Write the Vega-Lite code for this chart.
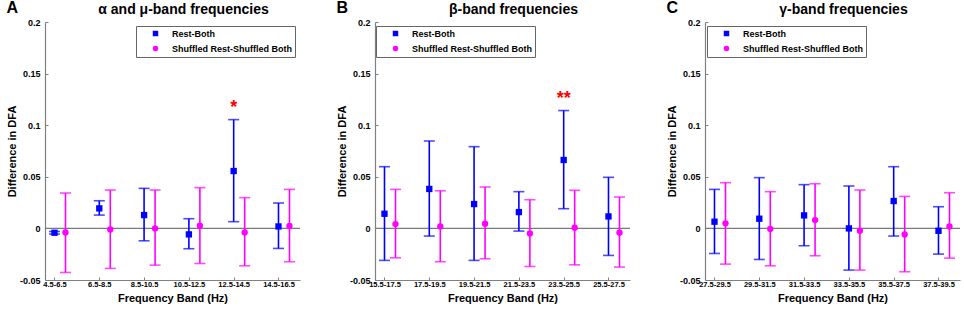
{
  "$schema": "https://vega.github.io/schema/vega-lite/v6.json",
  "background": "white",
  "padding": {"left": 6, "top": 0, "right": 0, "bottom": 0},
  "spacing": 35,
  "config": {
    "font": "Liberation Sans",
    "view": {"stroke": null},
    "axis": {
      "grid": false,
      "labelFont": "Liberation Sans",
      "labelFontWeight": "bold",
      "labelColor": "#000000",
      "titleFont": "Liberation Sans",
      "titleFontWeight": "bold",
      "titleFontSize": 11,
      "titleColor": "#000000",
      "domainColor": "#808080",
      "domainWidth": 1.2,
      "tickColor": "#808080",
      "tickSize": -3,
      "labelOverlap": false
    },
    "axisY": {"labelFontSize": 9, "labelPadding": 8, "titlePadding": 2},
    "axisX": {"labelFontSize": 7.5, "labelPadding": 3, "titlePadding": 5},
    "legend": {
      "labelFont": "Liberation Sans",
      "labelFontSize": 9,
      "labelFontWeight": "bold",
      "labelColor": "#000000",
      "strokeColor": "#666666",
      "fillColor": "#ffffff",
      "padding": 3,
      "rowPadding": 5,
      "symbolSize": 30,
      "symbolOffset": 12,
      "labelOffset": 12,
      "symbolStrokeWidth": 0
    },
    "title": {"font": "Liberation Sans", "fontWeight": "bold", "color": "#000000"}
  },
  "datasets": {
    "A": [
      {"band": "4.5-6.5", "series": "Rest-Both", "mean": -0.0042, "lo": -0.0055, "hi": -0.003, "sig": ""},
      {"band": "4.5-6.5", "series": "Shuffled Rest-Shuffled Both", "mean": -0.004, "lo": -0.0427, "hi": 0.0343, "sig": ""},
      {"band": "6.5-8.5", "series": "Rest-Both", "mean": 0.0194, "lo": 0.0129, "hi": 0.0268, "sig": ""},
      {"band": "6.5-8.5", "series": "Shuffled Rest-Shuffled Both", "mean": -0.001, "lo": -0.0388, "hi": 0.0372, "sig": ""},
      {"band": "8.5-10.5", "series": "Rest-Both", "mean": 0.0129, "lo": -0.012, "hi": 0.0388, "sig": ""},
      {"band": "8.5-10.5", "series": "Shuffled Rest-Shuffled Both", "mean": 0.0, "lo": -0.0356, "hi": 0.0372, "sig": ""},
      {"band": "10.5-12.5", "series": "Rest-Both", "mean": -0.0058, "lo": -0.0197, "hi": 0.0094, "sig": ""},
      {"band": "10.5-12.5", "series": "Shuffled Rest-Shuffled Both", "mean": 0.0026, "lo": -0.034, "hi": 0.0395, "sig": ""},
      {"band": "12.5-14.5", "series": "Rest-Both", "mean": 0.0556, "lo": 0.0065, "hi": 0.1054, "sig": "*"},
      {"band": "12.5-14.5", "series": "Shuffled Rest-Shuffled Both", "mean": -0.0039, "lo": -0.0362, "hi": 0.0298, "sig": ""},
      {"band": "14.5-16.5", "series": "Rest-Both", "mean": 0.0019, "lo": -0.0194, "hi": 0.0246, "sig": ""},
      {"band": "14.5-16.5", "series": "Shuffled Rest-Shuffled Both", "mean": 0.0023, "lo": -0.0323, "hi": 0.0378, "sig": ""}
    ],
    "B": [
      {"band": "15.5-17.5", "series": "Rest-Both", "mean": 0.0142, "lo": -0.031, "hi": 0.0598, "sig": ""},
      {"band": "15.5-17.5", "series": "Shuffled Rest-Shuffled Both", "mean": 0.0042, "lo": -0.0285, "hi": 0.0378, "sig": ""},
      {"band": "17.5-19.5", "series": "Rest-Both", "mean": 0.0382, "lo": -0.0074, "hi": 0.0847, "sig": ""},
      {"band": "17.5-19.5", "series": "Shuffled Rest-Shuffled Both", "mean": 0.0019, "lo": -0.0323, "hi": 0.0365, "sig": ""},
      {"band": "19.5-21.5", "series": "Rest-Both", "mean": 0.0236, "lo": -0.031, "hi": 0.0792, "sig": ""},
      {"band": "19.5-21.5", "series": "Shuffled Rest-Shuffled Both", "mean": 0.0045, "lo": -0.0294, "hi": 0.0401, "sig": ""},
      {"band": "21.5-23.5", "series": "Rest-Both", "mean": 0.0158, "lo": -0.0026, "hi": 0.0356, "sig": ""},
      {"band": "21.5-23.5", "series": "Shuffled Rest-Shuffled Both", "mean": -0.0049, "lo": -0.0369, "hi": 0.0278, "sig": ""},
      {"band": "23.5-25.5", "series": "Rest-Both", "mean": 0.0663, "lo": 0.0191, "hi": 0.1142, "sig": "**"},
      {"band": "23.5-25.5", "series": "Shuffled Rest-Shuffled Both", "mean": 0.0006, "lo": -0.0353, "hi": 0.0369, "sig": ""},
      {"band": "25.5-27.5", "series": "Rest-Both", "mean": 0.0116, "lo": -0.0262, "hi": 0.0495, "sig": ""},
      {"band": "25.5-27.5", "series": "Shuffled Rest-Shuffled Both", "mean": -0.0042, "lo": -0.0375, "hi": 0.0304, "sig": ""}
    ],
    "C": [
      {"band": "27.5-29.5", "series": "Rest-Both", "mean": 0.0065, "lo": -0.0243, "hi": 0.0378, "sig": ""},
      {"band": "27.5-29.5", "series": "Shuffled Rest-Shuffled Both", "mean": 0.0049, "lo": -0.0346, "hi": 0.0443, "sig": ""},
      {"band": "29.5-31.5", "series": "Rest-Both", "mean": 0.0094, "lo": -0.0301, "hi": 0.0492, "sig": ""},
      {"band": "29.5-31.5", "series": "Shuffled Rest-Shuffled Both", "mean": -0.0006, "lo": -0.0362, "hi": 0.0356, "sig": ""},
      {"band": "31.5-33.5", "series": "Rest-Both", "mean": 0.0126, "lo": -0.0168, "hi": 0.0424, "sig": ""},
      {"band": "31.5-33.5", "series": "Shuffled Rest-Shuffled Both", "mean": 0.0081, "lo": -0.0265, "hi": 0.0433, "sig": ""},
      {"band": "33.5-35.5", "series": "Rest-Both", "mean": 0.0, "lo": -0.0404, "hi": 0.0411, "sig": ""},
      {"band": "33.5-35.5", "series": "Shuffled Rest-Shuffled Both", "mean": -0.0023, "lo": -0.0404, "hi": 0.0372, "sig": ""},
      {"band": "35.5-37.5", "series": "Rest-Both", "mean": 0.0265, "lo": -0.0074, "hi": 0.0598, "sig": ""},
      {"band": "35.5-37.5", "series": "Shuffled Rest-Shuffled Both", "mean": -0.0058, "lo": -0.042, "hi": 0.031, "sig": ""},
      {"band": "37.5-39.5", "series": "Rest-Both", "mean": -0.0023, "lo": -0.0249, "hi": 0.021, "sig": ""},
      {"band": "37.5-39.5", "series": "Shuffled Rest-Shuffled Both", "mean": 0.0019, "lo": -0.0288, "hi": 0.0346, "sig": ""}
    ]
  },
  "resolve": {
    "scale": {"x": "independent", "color": "independent", "shape": "independent"},
    "legend": {"color": "independent", "shape": "independent"}
  },
  "hconcat": [
    {
      "data": {"name": "A"},
      "width": 255,
      "height": 258,
      "title": {"text": "A", "anchor": "start", "frame": "bounds", "fontSize": 16, "dy": 18},
      "resolve": {"axis": {"x": "independent"}},
      "encoding": {
        "x": {"field": "band", "type": "ordinal", "scale": {"type": "point", "domain": ["4.5-6.5", "6.5-8.5", "8.5-10.5", "10.5-12.5", "12.5-14.5", "14.5-16.5"], "padding": 0.346, "align": 0.306}, "axis": null}
      },
      "layer": [
        {"data": {"values": [{}]}, "mark": {"type": "rule", "color": "#7a7a7a", "strokeWidth": 1.2}, "encoding": {"x": null, "y": {"datum": 0, "type": "quantitative"}}},
        {"transform": [{"filter": "datum.series === 'Rest-Both'"}], "mark": {"type": "rule", "color": "#0000ff", "strokeWidth": 1.6},
         "encoding": {
           "x": {"field": "band", "type": "ordinal", "axis": {"title": "Frequency Band (Hz)", "labelAngle": 0}},
           "y": {"field": "lo", "type": "quantitative", "title": "Difference in DFA", "scale": {"domain": [-0.05, 0.2], "nice": false, "zero": false}, "axis": {"values": [-0.05, 0, 0.05, 0.1, 0.15, 0.2], "labelExpr": "replace(format(datum.value, '~g'), '−', '-')"}},
           "y2": {"field": "hi"}}},
        {"transform": [{"filter": "datum.series !== 'Rest-Both'"}], "mark": {"type": "rule", "color": "#ff00ff", "strokeWidth": 1.6, "xOffset": 11},
         "encoding": {"y": {"field": "lo", "type": "quantitative", "title": "Difference in DFA"}, "y2": {"field": "hi"}}},
        {"transform": [{"filter": "datum.series === 'Rest-Both'"}], "mark": {"type": "tick", "color": "#0000ff", "size": 11, "thickness": 1.6, "orient": "horizontal"},
         "encoding": {"y": {"field": "lo", "type": "quantitative", "title": "Difference in DFA"}}},
        {"transform": [{"filter": "datum.series === 'Rest-Both'"}], "mark": {"type": "tick", "color": "#0000ff", "size": 11, "thickness": 1.6, "orient": "horizontal"},
         "encoding": {"y": {"field": "hi", "type": "quantitative", "title": "Difference in DFA"}}},
        {"transform": [{"filter": "datum.series !== 'Rest-Both'"}], "mark": {"type": "tick", "color": "#ff00ff", "size": 11, "thickness": 1.6, "orient": "horizontal", "xOffset": 11},
         "encoding": {"y": {"field": "lo", "type": "quantitative", "title": "Difference in DFA"}}},
        {"transform": [{"filter": "datum.series !== 'Rest-Both'"}], "mark": {"type": "tick", "color": "#ff00ff", "size": 11, "thickness": 1.6, "orient": "horizontal", "xOffset": 11},
         "encoding": {"y": {"field": "hi", "type": "quantitative", "title": "Difference in DFA"}}},
        {"transform": [{"filter": "datum.series === 'Rest-Both'"}], "mark": {"type": "point", "filled": true, "size": 40, "opacity": 1},
         "encoding": {
           "x": {"field": "band", "type": "ordinal", "axis": {"orient": "top", "labels": false, "ticks": false, "domain": false, "title": "α and μ-band frequencies", "titleFontSize": 14, "titleX": 138, "titleY": -9, "titleBaseline": "alphabetic", "titleAlign": "center"}},
           "y": {"field": "mean", "type": "quantitative", "title": "Difference in DFA"},
           "color": {"field": "series", "type": "nominal", "scale": {"domain": ["Rest-Both", "Shuffled Rest-Shuffled Both"], "range": ["#0000ff", "#ff00ff"]}, "legend": {"title": null, "orient": "none", "legendX": 91, "legendY": 4}},
           "shape": {"field": "series", "type": "nominal", "scale": {"domain": ["Rest-Both", "Shuffled Rest-Shuffled Both"], "range": ["square", "circle"]}, "legend": {"title": null, "orient": "none", "legendX": 91, "legendY": 4}}}},
        {"transform": [{"filter": "datum.series !== 'Rest-Both'"}], "mark": {"type": "point", "filled": true, "size": 40, "opacity": 1, "xOffset": 11},
         "encoding": {
           "y": {"field": "mean", "type": "quantitative", "title": "Difference in DFA"},
           "color": {"field": "series", "type": "nominal"},
           "shape": {"field": "series", "type": "nominal"}}},
        {"transform": [{"filter": "datum.sig !== ''"}], "mark": {"type": "text", "color": "#ff0000", "fontSize": 18, "fontWeight": "bold", "baseline": "alphabetic", "dy": -7},
         "encoding": {"y": {"field": "hi", "type": "quantitative", "title": "Difference in DFA"}, "text": {"field": "sig"}}}
      ]
    },
    {
      "data": {"name": "B"},
      "width": 255,
      "height": 258,
      "title": {"text": "B", "anchor": "start", "frame": "bounds", "fontSize": 16, "dy": 18},
      "resolve": {"axis": {"x": "independent"}},
      "encoding": {
        "x": {"field": "band", "type": "ordinal", "scale": {"type": "point", "domain": ["15.5-17.5", "17.5-19.5", "19.5-21.5", "21.5-23.5", "23.5-25.5", "25.5-27.5"], "padding": 0.346, "align": 0.306}, "axis": null}
      },
      "layer": [
        {"data": {"values": [{}]}, "mark": {"type": "rule", "color": "#7a7a7a", "strokeWidth": 1.2}, "encoding": {"x": null, "y": {"datum": 0, "type": "quantitative"}}},
        {"transform": [{"filter": "datum.series === 'Rest-Both'"}], "mark": {"type": "rule", "color": "#0000ff", "strokeWidth": 1.6},
         "encoding": {
           "x": {"field": "band", "type": "ordinal", "axis": {"title": "Frequency Band (Hz)", "labelAngle": 0}},
           "y": {"field": "lo", "type": "quantitative", "title": "Difference in DFA", "scale": {"domain": [-0.05, 0.2], "nice": false, "zero": false}, "axis": {"values": [-0.05, 0, 0.05, 0.1, 0.15, 0.2], "labelExpr": "replace(format(datum.value, '~g'), '−', '-')"}},
           "y2": {"field": "hi"}}},
        {"transform": [{"filter": "datum.series !== 'Rest-Both'"}], "mark": {"type": "rule", "color": "#ff00ff", "strokeWidth": 1.6, "xOffset": 11},
         "encoding": {"y": {"field": "lo", "type": "quantitative", "title": "Difference in DFA"}, "y2": {"field": "hi"}}},
        {"transform": [{"filter": "datum.series === 'Rest-Both'"}], "mark": {"type": "tick", "color": "#0000ff", "size": 11, "thickness": 1.6, "orient": "horizontal"},
         "encoding": {"y": {"field": "lo", "type": "quantitative", "title": "Difference in DFA"}}},
        {"transform": [{"filter": "datum.series === 'Rest-Both'"}], "mark": {"type": "tick", "color": "#0000ff", "size": 11, "thickness": 1.6, "orient": "horizontal"},
         "encoding": {"y": {"field": "hi", "type": "quantitative", "title": "Difference in DFA"}}},
        {"transform": [{"filter": "datum.series !== 'Rest-Both'"}], "mark": {"type": "tick", "color": "#ff00ff", "size": 11, "thickness": 1.6, "orient": "horizontal", "xOffset": 11},
         "encoding": {"y": {"field": "lo", "type": "quantitative", "title": "Difference in DFA"}}},
        {"transform": [{"filter": "datum.series !== 'Rest-Both'"}], "mark": {"type": "tick", "color": "#ff00ff", "size": 11, "thickness": 1.6, "orient": "horizontal", "xOffset": 11},
         "encoding": {"y": {"field": "hi", "type": "quantitative", "title": "Difference in DFA"}}},
        {"transform": [{"filter": "datum.series === 'Rest-Both'"}], "mark": {"type": "point", "filled": true, "size": 40, "opacity": 1},
         "encoding": {
           "x": {"field": "band", "type": "ordinal", "axis": {"orient": "top", "labels": false, "ticks": false, "domain": false, "title": "β-band frequencies", "titleFontSize": 14, "titleX": 138, "titleY": -9, "titleBaseline": "alphabetic", "titleAlign": "center"}},
           "y": {"field": "mean", "type": "quantitative", "title": "Difference in DFA"},
           "color": {"field": "series", "type": "nominal", "scale": {"domain": ["Rest-Both", "Shuffled Rest-Shuffled Both"], "range": ["#0000ff", "#ff00ff"]}, "legend": {"title": null, "orient": "none", "legendX": 1, "legendY": 4}},
           "shape": {"field": "series", "type": "nominal", "scale": {"domain": ["Rest-Both", "Shuffled Rest-Shuffled Both"], "range": ["square", "circle"]}, "legend": {"title": null, "orient": "none", "legendX": 1, "legendY": 4}}}},
        {"transform": [{"filter": "datum.series !== 'Rest-Both'"}], "mark": {"type": "point", "filled": true, "size": 40, "opacity": 1, "xOffset": 11},
         "encoding": {
           "y": {"field": "mean", "type": "quantitative", "title": "Difference in DFA"},
           "color": {"field": "series", "type": "nominal"},
           "shape": {"field": "series", "type": "nominal"}}},
        {"transform": [{"filter": "datum.sig !== ''"}], "mark": {"type": "text", "color": "#ff0000", "fontSize": 18, "fontWeight": "bold", "baseline": "alphabetic", "dy": -7},
         "encoding": {"y": {"field": "hi", "type": "quantitative", "title": "Difference in DFA"}, "text": {"field": "sig"}}}
      ]
    },
    {
      "data": {"name": "C"},
      "width": 255,
      "height": 258,
      "title": {"text": "C", "anchor": "start", "frame": "bounds", "fontSize": 16, "dy": 18},
      "resolve": {"axis": {"x": "independent"}},
      "encoding": {
        "x": {"field": "band", "type": "ordinal", "scale": {"type": "point", "domain": ["27.5-29.5", "29.5-31.5", "31.5-33.5", "33.5-35.5", "35.5-37.5", "37.5-39.5"], "padding": 0.346, "align": 0.306}, "axis": null}
      },
      "layer": [
        {"data": {"values": [{}]}, "mark": {"type": "rule", "color": "#7a7a7a", "strokeWidth": 1.2}, "encoding": {"x": null, "y": {"datum": 0, "type": "quantitative"}}},
        {"transform": [{"filter": "datum.series === 'Rest-Both'"}], "mark": {"type": "rule", "color": "#0000ff", "strokeWidth": 1.6},
         "encoding": {
           "x": {"field": "band", "type": "ordinal", "axis": {"title": "Frequency Band (Hz)", "labelAngle": 0}},
           "y": {"field": "lo", "type": "quantitative", "title": "Difference in DFA", "scale": {"domain": [-0.05, 0.2], "nice": false, "zero": false}, "axis": {"values": [-0.05, 0, 0.05, 0.1, 0.15, 0.2], "labelExpr": "replace(format(datum.value, '~g'), '−', '-')"}},
           "y2": {"field": "hi"}}},
        {"transform": [{"filter": "datum.series !== 'Rest-Both'"}], "mark": {"type": "rule", "color": "#ff00ff", "strokeWidth": 1.6, "xOffset": 11},
         "encoding": {"y": {"field": "lo", "type": "quantitative", "title": "Difference in DFA"}, "y2": {"field": "hi"}}},
        {"transform": [{"filter": "datum.series === 'Rest-Both'"}], "mark": {"type": "tick", "color": "#0000ff", "size": 11, "thickness": 1.6, "orient": "horizontal"},
         "encoding": {"y": {"field": "lo", "type": "quantitative", "title": "Difference in DFA"}}},
        {"transform": [{"filter": "datum.series === 'Rest-Both'"}], "mark": {"type": "tick", "color": "#0000ff", "size": 11, "thickness": 1.6, "orient": "horizontal"},
         "encoding": {"y": {"field": "hi", "type": "quantitative", "title": "Difference in DFA"}}},
        {"transform": [{"filter": "datum.series !== 'Rest-Both'"}], "mark": {"type": "tick", "color": "#ff00ff", "size": 11, "thickness": 1.6, "orient": "horizontal", "xOffset": 11},
         "encoding": {"y": {"field": "lo", "type": "quantitative", "title": "Difference in DFA"}}},
        {"transform": [{"filter": "datum.series !== 'Rest-Both'"}], "mark": {"type": "tick", "color": "#ff00ff", "size": 11, "thickness": 1.6, "orient": "horizontal", "xOffset": 11},
         "encoding": {"y": {"field": "hi", "type": "quantitative", "title": "Difference in DFA"}}},
        {"transform": [{"filter": "datum.series === 'Rest-Both'"}], "mark": {"type": "point", "filled": true, "size": 40, "opacity": 1},
         "encoding": {
           "x": {"field": "band", "type": "ordinal", "axis": {"orient": "top", "labels": false, "ticks": false, "domain": false, "title": "γ-band frequencies", "titleFontSize": 14, "titleX": 138, "titleY": -9, "titleBaseline": "alphabetic", "titleAlign": "center"}},
           "y": {"field": "mean", "type": "quantitative", "title": "Difference in DFA"},
           "color": {"field": "series", "type": "nominal", "scale": {"domain": ["Rest-Both", "Shuffled Rest-Shuffled Both"], "range": ["#0000ff", "#ff00ff"]}, "legend": {"title": null, "orient": "none", "legendX": 2, "legendY": 4}},
           "shape": {"field": "series", "type": "nominal", "scale": {"domain": ["Rest-Both", "Shuffled Rest-Shuffled Both"], "range": ["square", "circle"]}, "legend": {"title": null, "orient": "none", "legendX": 2, "legendY": 4}}}},
        {"transform": [{"filter": "datum.series !== 'Rest-Both'"}], "mark": {"type": "point", "filled": true, "size": 40, "opacity": 1, "xOffset": 11},
         "encoding": {
           "y": {"field": "mean", "type": "quantitative", "title": "Difference in DFA"},
           "color": {"field": "series", "type": "nominal"},
           "shape": {"field": "series", "type": "nominal"}}},
        {"transform": [{"filter": "datum.sig !== ''"}], "mark": {"type": "text", "color": "#ff0000", "fontSize": 18, "fontWeight": "bold", "baseline": "alphabetic", "dy": -7},
         "encoding": {"y": {"field": "hi", "type": "quantitative", "title": "Difference in DFA"}, "text": {"field": "sig"}}}
      ]
    }
  ]
}
